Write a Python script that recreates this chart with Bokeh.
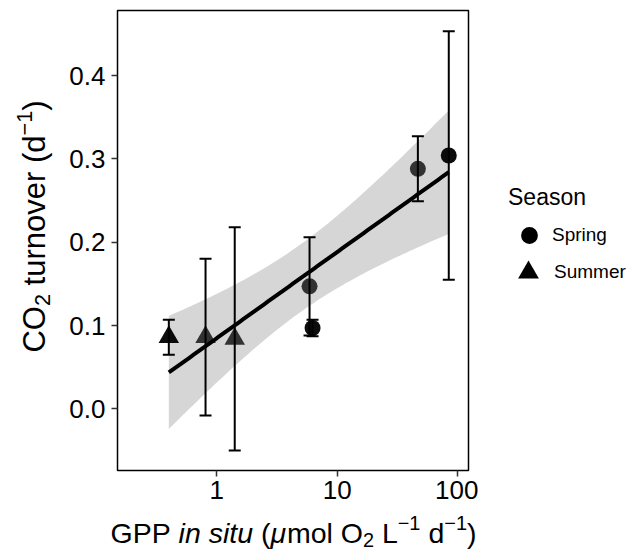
import math
import numpy as np
from bokeh.plotting import figure
from bokeh.layouts import row, column
from bokeh.models import (ColumnDataSource, Range1d, FixedTicker, NumeralTickFormatter,
                          Label, Legend, LegendItem)
from bokeh.embed import file_html
from bokeh.resources import INLINE

# ---------------- data ----------------
gpp = [0.40, 0.807, 1.41, 5.89, 6.24, 46.7, 84.3]          # GPP in situ (umol O2 L-1 d-1)
turnover = [0.086, 0.086, 0.084, 0.147, 0.097, 0.288, 0.304]  # CO2 turnover (d-1)
turnover_err = [0.021, 0.094, 0.134, 0.059, 0.010, 0.039, 0.149]
season = ["Summer", "Summer", "Summer", "Spring", "Spring", "Spring", "Spring"]
seasons = ["Spring", "Summer"]
x_ticks = [1, 10, 100]
x_tick_labels = ["1", "10", "100"]
y_ticks = [0.0, 0.1, 0.2, 0.3, 0.4]
y_tick_labels = ["0.0", "0.1", "0.2", "0.3", "0.4"]

# style (not data)
point_alpha = [0.95, 0.77, 0.77, 0.77, 0.95, 0.77, 0.95]
FONT = "Liberation Sans"
W, H = 628, 552
YT_W = 60            # width of the strip holding the y-axis title
MAIN_W = 418         # main plot (canvas x 60 .. 478)
LEG_W = W - YT_W - MAIN_W
TOP_H = 512          # height of the upper row
XT_H = H - TOP_H     # strip holding the x-axis title
BT, BB = 10, 42      # top / bottom borders of the upper row (frame: canvas y 10 .. 470)
FRAME_BOTTOM = TOP_H - BB

p = figure(width=MAIN_W, height=TOP_H, x_axis_type="log",
           x_range=Range1d(0.150, 122.9), y_range=Range1d(-0.074, 0.478),
           output_backend="svg", toolbar_location=None,
           min_border_left=57, min_border_right=10, min_border_top=BT, min_border_bottom=BB)
p.background_fill_color = "white"
p.border_fill_color = "white"
p.outline_line_color = "black"
p.outline_line_width = 1.5
p.xgrid.visible = False
p.ygrid.visible = False

for ax in (p.xaxis[0], p.yaxis[0]):
    ax.axis_line_color = None
    ax.major_tick_line_color = "#333333"
    ax.major_tick_line_width = 1.5
    ax.major_tick_out = 6
    ax.major_tick_in = 0
    ax.minor_tick_line_color = None
    ax.major_label_text_font = FONT
    ax.major_label_text_font_size = "26px"
    ax.major_label_text_color = "black"

p.xaxis.ticker = FixedTicker(ticks=x_ticks)
p.xaxis.formatter = NumeralTickFormatter(format="0")
p.xaxis.major_label_overrides = dict(zip(x_ticks, x_tick_labels))
p.xaxis.major_label_standoff = 4
p.yaxis.ticker = FixedTicker(ticks=y_ticks)
p.yaxis.formatter = NumeralTickFormatter(format="0.0")
p.yaxis.major_label_overrides = dict(zip(y_ticks, y_tick_labels))
p.yaxis.major_label_standoff = 6

# ---------------- linear fit on log10(x) with 95% CI ----------------
lx = np.log10(np.array(gpp))
yy = np.array(turnover)
n = len(lx)
slope, icpt = np.polyfit(lx, yy, 1)
resid = yy - (icpt + slope * lx)
s = math.sqrt(float(np.sum(resid ** 2)) / (n - 2))
sxx = float(np.sum((lx - lx.mean()) ** 2))
t_crit = 2.570582  # t(0.975, df = 5)
grid = np.linspace(lx.min(), lx.max(), 80)
fit = icpt + slope * grid
se = s * np.sqrt(1.0 / n + (grid - lx.mean()) ** 2 / sxx)

p.varea(x=10 ** grid, y1=fit - t_crit * se, y2=fit + t_crit * se,
        fill_color="#999999", fill_alpha=0.4)

# ---------------- error bars ----------------
lower = [m - e for m, e in zip(turnover, turnover_err)]
upper = [m + e for m, e in zip(turnover, turnover_err)]
p.segment(x0=gpp, y0=lower, x1=gpp, y1=upper, line_color="black", line_width=2)
p.scatter(x=gpp, y=upper, marker="dash", size=12, line_color="black", line_width=2)
p.scatter(x=gpp, y=lower, marker="dash", size=12, line_color="black", line_width=2)

# ---------------- points ----------------
markers = {"Spring": ("circle", 16), "Summer": ("triangle", 20.5)}
for s_name in seasons:
    idx = [i for i, sv in enumerate(season) if sv == s_name]
    src = ColumnDataSource(dict(x=[gpp[i] for i in idx], y=[turnover[i] for i in idx],
                                a=[point_alpha[i] for i in idx]))
    mk, sz = markers[s_name]
    p.scatter("x", "y", source=src, marker=mk, size=sz, fill_color="black",
              fill_alpha="a", line_color=None)

# regression line on top
p.line(x=10 ** grid, y=fit, line_color="black", line_width=4)


# ---------------- helper strips (titles, legend) ----------------
def strip(w, h, top=0, bottom=0):
    f = figure(width=w, height=h, x_range=Range1d(0, 1), y_range=Range1d(0, 1),
               x_axis_type=None, y_axis_type=None, output_backend="svg",
               toolbar_location=None, min_border_left=0, min_border_right=0,
               min_border_top=top, min_border_bottom=bottom)
    f.outline_line_color = None
    f.background_fill_color = "white"
    f.border_fill_color = "white"
    return f


ytf = strip(YT_W, TOP_H, BT, BB)
lgf = strip(LEG_W, TOP_H, BT, BB)
xtf = strip(W, XT_H)

# legend
leg_sp = lgf.scatter(x=[float("nan")], y=[float("nan")], marker="circle", fill_color="black", line_color=None)
leg_su = lgf.scatter(x=[float("nan")], y=[float("nan")], marker="triangle", fill_color="black", line_color=None)
LX0 = YT_W + MAIN_W  # canvas x of legend strip
legA = Legend(items=[LegendItem(label=seasons[0], renderers=[leg_sp])],
              title="Season", location=(508 - LX0, FRAME_BOTTOM - 256),
              glyph_width=42, glyph_height=42, label_standoff=2, padding=0, margin=0,
              spacing=0, title_standoff=3,
              title_text_font=FONT, title_text_font_size="23px", title_text_font_style="normal",
              title_text_color="black",
              label_text_font=FONT, label_text_font_size="19px", label_text_color="black",
              border_line_color=None, background_fill_alpha=0)
legB = Legend(items=[LegendItem(label=seasons[1], renderers=[leg_su])],
              location=(502 - LX0, FRAME_BOTTOM - 298),
              glyph_width=52, glyph_height=52, label_standoff=0, padding=0, margin=0,
              spacing=0,
              label_text_font=FONT, label_text_font_size="19px", label_text_color="black",
              border_line_color=None, background_fill_alpha=0)
lgf.add_layout(legA)
lgf.add_layout(legB)

# axis titles built from segments (sub/superscripts, italics)
ADV = {' ': 278, '(': 333, ')': 333, 'G': 778, 'P': 667, 'i': 222, 'n': 556, 's': 500,
       't': 278, 'u': 556, 'm': 833, 'o': 556, 'l': 222, 'O': 778, 'L': 556, 'd': 556,
       '1': 556, '2': 556, '\u2212': 584, '\u03bc': 576, 'C': 722, 'r': 333, 'v': 500,
       'e': 556}
BASE_CORR = 0.34  # renderer draws "alphabetic" text this many em lower than the anchor


def seg_width(text, fs):
    return sum(ADV.get(c, 556) for c in text) / 1000.0 * fs


def put_title(fig, ox, oy_bottom, segs, size, x0, y0, vertical):
    """Canvas coords (x0, y0) of baseline start; fig frame origin: canvas x ox, canvas bottom oy_bottom."""
    pos = 0.0
    for text, style, scale, shift in segs:
        fs = size * scale
        lead = len(text) - len(text.lstrip(" "))
        shown = text.strip(" ")
        p0 = pos + seg_width(" " * lead, fs)
        down = shift * size - BASE_CORR * fs
        if vertical:
            cx, cy = x0 + down, y0 - p0
        else:
            cx, cy = x0 + p0, y0 + down
        fig.add_layout(Label(x=cx - ox, y=oy_bottom - cy, x_units="screen", y_units="screen",
                             text=shown, text_font=FONT, text_font_size=f"{fs:.1f}px",
                             text_font_style=style, text_color="black",
                             text_align="left", text_baseline="alphabetic",
                             angle=(math.pi / 2 if vertical else 0)))
        pos += seg_width(text, fs)


def total_width(segs, size):
    return sum(seg_width(t, size * sc) for t, _, sc, _ in segs)


SUB, SUP = 0.15, -0.45
x_title = [("GPP ", "normal", 1, 0), ("in situ", "italic", 1, 0), (" (", "normal", 1, 0),
           ("\u03bc", "italic", 1, 0), ("mol O", "normal", 1, 0), ("2", "normal", 0.7, SUB),
           (" L", "normal", 1, 0), ("\u22121", "normal", 0.7, SUP), (" d", "normal", 1, 0),
           ("\u22121", "normal", 0.7, SUP), (")", "normal", 1, 0)]
y_title = [("CO", "normal", 1, 0), ("2", "normal", 0.7, SUB), (" turnover (d", "normal", 1, 0),
           ("\u22121", "normal", 0.7, SUP), (")", "normal", 1, 0)]

XS = 28.5
put_title(xtf, 0, H, x_title, XS, 293 - total_width(x_title, XS) / 2, 542, vertical=False)
YS = 31
put_title(ytf, 0, FRAME_BOTTOM, y_title, YS, 45, 226 + total_width(y_title, YS) / 2, vertical=True)

layout = column(row(ytf, p, lgf, spacing=0), xtf, spacing=0)
open("out.html", "w").write(file_html(layout, INLINE))
